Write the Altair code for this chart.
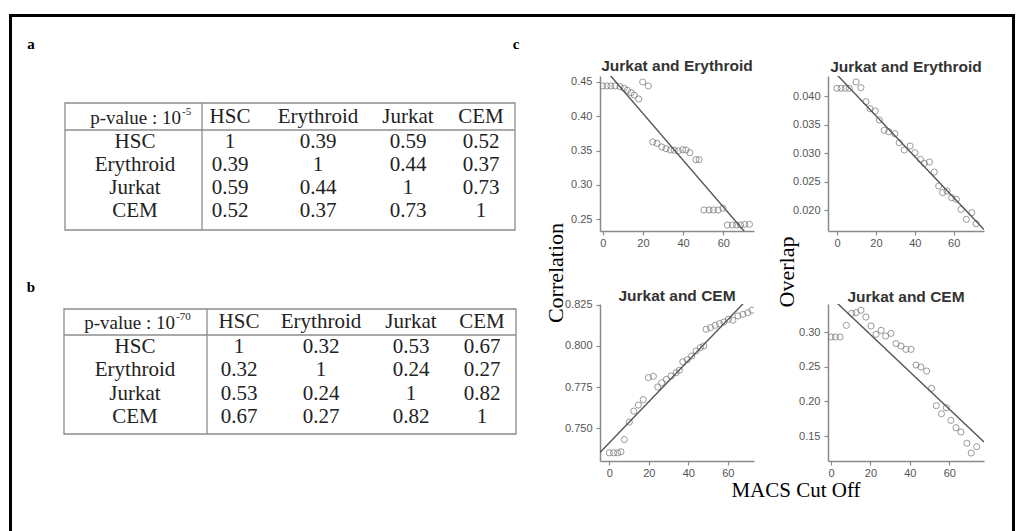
import altair as alt
import pandas as pd

# ---------------- data ----------------
cell_types = ["HSC", "Erythroid", "Jurkat", "CEM"]
table_a_header = ("p-value : 10", "-5")
table_b_header = ("p-value : 10", "-70")
table_a_values = [
    [1, 0.39, 0.59, 0.52],
    [0.39, 1, 0.44, 0.37],
    [0.59, 0.44, 1, 0.73],
    [0.52, 0.37, 0.73, 1],
]
table_b_values = [
    [1, 0.32, 0.53, 0.67],
    [0.32, 1, 0.24, 0.27],
    [0.53, 0.24, 1, 0.82],
    [0.67, 0.27, 0.82, 1],
]

# Jurkat and Erythroid - correlation
je_corr_cut = [0, 2.1, 4.1, 6.1, 8.6, 10.6, 12.3, 14.1, 15.7, 17.9, 19.9, 22.7,
               24.9, 27.0, 29.4, 31.5, 33.7, 35.6, 37.6, 39.8, 41.4, 43.4, 46.4, 48.0,
               50.4, 52.9, 55.1, 57.4, 59.8, 62.0, 64.5, 66.6, 68.6, 70.6, 73.0]
je_corr = [0.4442, 0.4442, 0.4442, 0.4442, 0.4432, 0.4408, 0.4379, 0.4344, 0.4310, 0.4252, 0.4500, 0.4442,
           0.3626, 0.3607, 0.3553, 0.3528, 0.3509, 0.3505, 0.3495, 0.3514, 0.3509, 0.3470, 0.3368, 0.3368,
           0.2635, 0.2635, 0.2635, 0.2635, 0.2660, 0.2416, 0.2416, 0.2416, 0.2416, 0.2426, 0.2426]

# Jurkat and Erythroid - overlap
je_ovl_cut = [0, 2.1, 4.3, 6.3, 9.8, 12.3, 14.9, 17.0, 19.7, 21.8, 24.3, 26.6, 29.8, 32.0, 34.6,
              37.6, 40.1, 42.9, 44.9, 47.5, 50.0, 52.3, 54.3, 56.6, 59.0, 61.4, 63.8, 66.5, 69.3, 71.5]
je_ovl = [0.04135, 0.04135, 0.04135, 0.04135, 0.04245, 0.04145, 0.03900, 0.03778, 0.03738, 0.03580,
          0.03400, 0.03375, 0.03340, 0.03183, 0.03055, 0.03125, 0.03008, 0.02892, 0.02822, 0.02845,
          0.02670, 0.02425, 0.02310, 0.02338, 0.02220, 0.02192, 0.02017, 0.01842, 0.01958, 0.01765]

# Jurkat and CEM - correlation
ck_corr_cut = [0, 2.2, 4.2, 5.9, 7.6, 10.1, 12.4, 14.7, 17.2, 19.8, 22.3, 24.5, 26.5, 28.9, 31.3, 33.8,
               35.5, 37.2, 39.4, 41.7, 43.9, 46.1, 47.8, 49.0, 51.2, 53.6, 55.8, 58.0, 60.3, 62.5,
               65.1, 67.6, 70.1, 72.2]
ck_corr = [0.7349, 0.7349, 0.7349, 0.7355, 0.7430, 0.7536, 0.7603, 0.7640, 0.7673, 0.7807, 0.7815,
           0.7750, 0.7776, 0.7797, 0.7817, 0.7837, 0.7852, 0.7904, 0.7916, 0.7939, 0.7970, 0.7990,
           0.8000, 0.8102, 0.8112, 0.8126, 0.8136, 0.8146, 0.8163, 0.8157, 0.8183, 0.8193, 0.8203, 0.8218]

# Jurkat and CEM - overlap
ck_ovl_cut = [0, 2.2, 4.6, 7.8, 10.5, 12.7, 15.2, 17.7, 20.3, 22.8, 25.4, 27.7, 30.4, 33.0, 35.5,
              38.0, 40.6, 43.1, 45.6, 48.5, 51.0, 53.4, 56.0, 58.5, 60.8, 63.4, 65.9, 68.9, 71.1, 73.9]
ck_ovl = [0.2928, 0.2928, 0.2928, 0.3096, 0.3270, 0.3279, 0.3313, 0.3216, 0.3087, 0.2966, 0.3024,
          0.2942, 0.2981, 0.2832, 0.2798, 0.2750, 0.2750, 0.2524, 0.2495, 0.2438, 0.2188, 0.1938,
          0.1822, 0.1909, 0.1726, 0.1620, 0.1558, 0.1396, 0.1255, 0.1346]

x_ticks = [0, 20, 40, 60]

# ---------------- styles / layout ----------------
SERIF = "Liberation Serif"
SANS = "Liberation Sans"
TXT = "#222222"
TABLE_LINE = "#8c8c8c"
AX = "#8a8a8a"
DUMMY = pd.DataFrame({"k": [0]})


def spacer(w, h):
    return alt.Chart(DUMMY).mark_point(opacity=0, size=1).encode(
        x=alt.value(w / 2), y=alt.value(h / 2)).properties(width=w, height=h)


def table_df(values):
    recs = []
    for j, ct in enumerate(cell_types):
        recs.append(dict(r=0, c=j + 1, t=ct))
    for i, ct in enumerate(cell_types):
        recs.append(dict(r=i + 1, c=0, t=ct))
        for j, v in enumerate(values[i]):
            recs.append(dict(r=i + 1, c=j + 1, t=f"{v:g}"))
    return pd.DataFrame(recs)


def table_text(df, xr, yr):
    return alt.Chart(df).mark_text(font=SERIF, color=TXT, baseline="middle", align="center",
                                   fontSize=21).encode(
        x=alt.X("c:Q", scale=alt.Scale(domain=[0, 1, 2, 3, 4], range=xr, nice=False, zero=False), axis=None),
        y=alt.Y("r:Q", scale=alt.Scale(domain=[0, 1, 2, 3, 4], range=yr, nice=False, zero=False), axis=None),
        text="t:N",
    )


def box(x1, x2, y1, y2):
    return alt.Chart(DUMMY).mark_rect(fillOpacity=0, stroke=TABLE_LINE, strokeWidth=1.3).encode(
        x=alt.value(x1), x2=alt.value(x2), y=alt.value(y1), y2=alt.value(y2))


def hline(x1, x2, y, color=TABLE_LINE, w=1.3):
    return alt.Chart(DUMMY).mark_rule(color=color, strokeWidth=w).encode(
        x=alt.value(x1), x2=alt.value(x2), y=alt.value(y))


def vline(x, y1, y2, color=TABLE_LINE, w=1.3):
    return alt.Chart(DUMMY).mark_rule(color=color, strokeWidth=w).encode(
        x=alt.value(x), y=alt.value(y1), y2=alt.value(y2))


def label(txt, x, y, size, bold=False, angle=0, font=SERIF, align="center", color="black"):
    kw = dict(font=font, fontSize=size, color=color, text=txt, align=align, baseline="middle")
    if bold:
        kw["fontWeight"] = "bold"
    if angle:
        kw["angle"] = angle
    return alt.Chart(DUMMY).mark_text(**kw).encode(x=alt.value(x), y=alt.value(y))


left_layers = [
    # outer frame
    hline(8, 1014, 14.5, color="black", w=3),
    vline(9.5, 13, 531, color="black", w=3),
    vline(1012.5, 13, 531, color="black", w=3),
    # panel letters
    label("a", 30, 43, 15, bold=True),
    label("b", 30, 286, 15, bold=True),
    label("c", 515, 43, 15, bold=True),
    # table a
    box(64, 514, 102, 229),
    hline(64, 514, 129),
    vline(201, 102, 229),
    label(table_a_header[0], 180, 117, 19, align="right", color=TXT),
    label(table_a_header[1], 181, 111, 11, align="left", color=TXT),
    table_text(table_df(table_a_values),
               [134, 229, 317, 407, 480], [116, 141, 164, 187, 210]),
    # table b
    box(63, 515, 308, 433),
    hline(63, 515, 334),
    vline(206, 308, 433),
    label(table_b_header[0], 174, 322, 19, align="right", color=TXT),
    label(table_b_header[1], 175, 316, 11, align="left", color=TXT),
    table_text(table_df(table_b_values),
               [134, 238, 320, 410, 481], [321, 346, 369, 393, 416]),
    # shared axis titles of panel c
    label("Correlation", 555, 272, 22, angle=270),
    label("Overlap", 786, 271, 22, angle=270),
    label("MACS Cut Off", 795, 490, 21),
]
left = alt.layer(*left_layers).resolve_scale(x="independent", y="independent").properties(
    width=599, height=75)


def panel(xs, ys, title, xdom, ydom, yticks, yfmt, w, h, toff):
    df = pd.DataFrame({"cut": xs, "val": ys})
    xsc = alt.Scale(domain=xdom, nice=False, zero=False)
    ysc = alt.Scale(domain=ydom, nice=False, zero=False)
    common = dict(title=None, grid=False, domainColor=AX, domainWidth=1.5, tickColor=AX,
                  tickWidth=1.2, tickSize=4, labelColor="#555555", labelFont=SANS,
                  labelFontSize=11, labelOverlap=False, labelFlush=False)
    xax = alt.Axis(values=x_ticks, labelPadding=2, **common)
    yax = alt.Axis(values=yticks, format=yfmt, labelPadding=4, **common)
    pts = alt.Chart(df).mark_point(shape="circle", filled=False, size=38, color="#707070",
                                   strokeWidth=1, clip=True).encode(
        x=alt.X("cut:Q", scale=xsc, axis=xax),
        y=alt.Y("val:Q", scale=ysc, axis=yax),
    )
    line = alt.Chart(df).transform_regression("cut", "val", extent=list(xdom)).mark_line(
        color="#555555", strokeWidth=1.4, clip=True).encode(
        x=alt.X("cut:Q", scale=xsc, axis=xax),
        y=alt.Y("val:Q", scale=ysc, axis=yax),
    )
    return alt.layer(pts, line).properties(
        width=w, height=h,
        title=alt.TitleParams(title, font=SANS, fontSize=15.5, fontWeight="bold", color="#333333",
                              anchor="middle", frame="group", offset=toff, baseline="alphabetic"),
    )


p1 = panel(je_corr_cut, je_corr, "Jurkat and Erythroid", (-1.34, 75.27), (0.2329, 0.4587),
           [0.25, 0.30, 0.35, 0.40, 0.45], ".2f", 154, 155, -11)
p2 = panel(je_ovl_cut, je_ovl, "Jurkat and Erythroid", (-4.63, 75.6), (0.01638, 0.0435),
           [0.020, 0.025, 0.030, 0.035, 0.040], ".3f", 156, 155, -11)
p3 = panel(ck_corr_cut, ck_corr, "Jurkat and CEM", (-4.71, 73.24), (0.7299, 0.8256),
           [0.750, 0.775, 0.800, 0.825], ".3f", 154, 157, -18)
p4 = panel(ck_ovl_cut, ck_ovl, "Jurkat and CEM", (-1.52, 77.59), (0.114, 0.3404),
           [0.15, 0.20, 0.25, 0.30], ".2f", 156, 157, -13)

cells = [
    left, spacer(154, 75), spacer(74, 75), spacer(156, 75),
    spacer(599, 155), p1, spacer(74, 155), p2,
    spacer(599, 73), spacer(154, 73), spacer(74, 73), spacer(156, 73),
    spacer(599, 157), p3, spacer(74, 157), p4,
]

chart = alt.concat(*cells, columns=4, spacing=0, bounds="flush", align="each").properties(
    padding=0, background="white").configure_view(stroke="transparent")

chart.save("out.html", embed_options={"renderer": "svg", "actions": False})
